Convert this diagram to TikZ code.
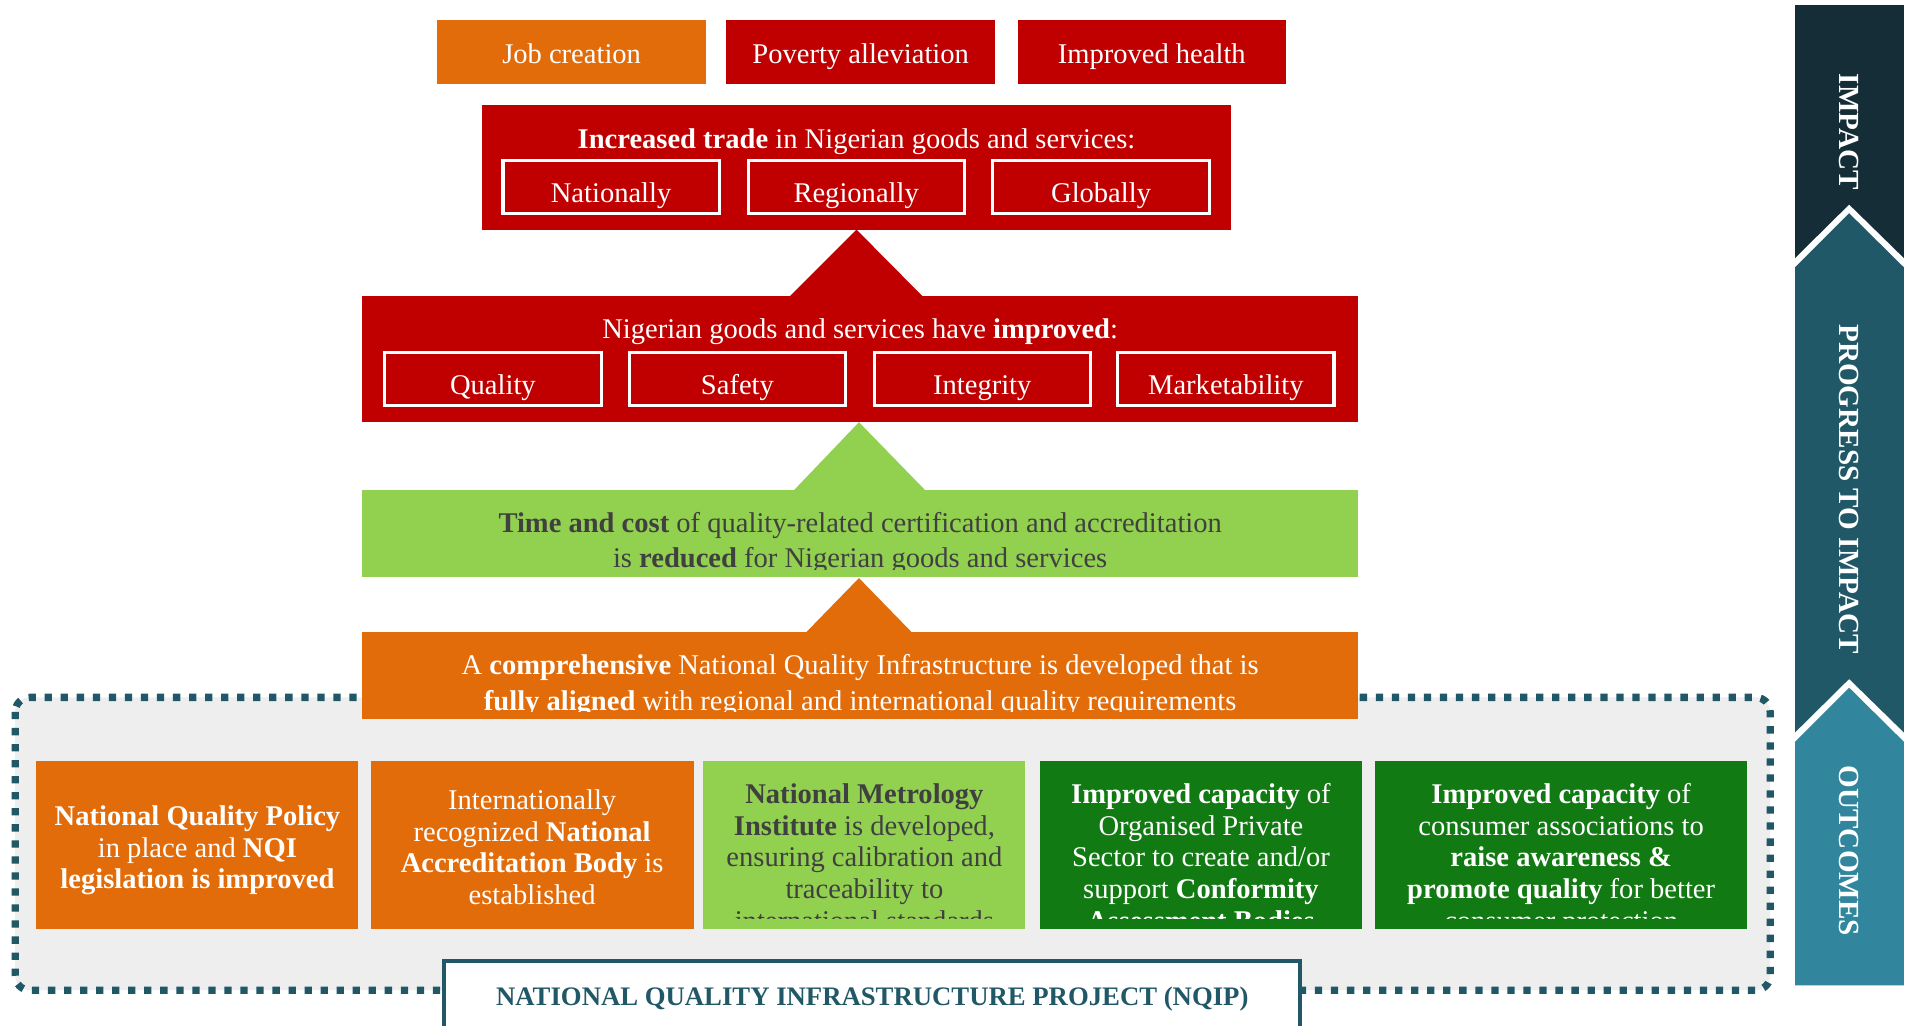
\documentclass[tikz,border=0pt]{standalone}
\usepackage{fontspec}
\setmainfont{Liberation Serif}
\definecolor{nred}{HTML}{C00000}
\definecolor{norange}{HTML}{E36C0A}
\definecolor{lgreen}{HTML}{92D050}
\definecolor{dgreen}{HTML}{127A12}
\definecolor{dtext}{HTML}{404040}
\definecolor{pgray}{HTML}{EEEEEE}
\definecolor{tealA}{HTML}{142D37}
\definecolor{tealB}{HTML}{215868}
\definecolor{tealC}{HTML}{31859C}
\newcommand\ml[1]{\begin{tabular}[t]{@{}c@{}}#1\end{tabular}}
\newcommand\bodyfont{\fontsize{23.5}{29.5}\selectfont}
\newcommand\outfont{\fontsize{23.5}{26}\selectfont}
\begin{document}
\begin{tikzpicture}[x=1pt,y=-1pt,
  boxn/.style={inner sep=0pt, outer sep=0pt, draw=none},
  subbox/.style={inner sep=0pt, outer sep=0pt, draw=white, line width=2.5pt, minimum width=178pt, minimum height=43.5pt},
  lbl/.style={inner sep=0pt, outer sep=0pt, anchor=base, font=\bodyfont, text=white},
  olbl/.style={inner sep=0pt, outer sep=0pt, anchor=base, font=\outfont},
  side/.style={inner sep=0pt, rotate=-90, text=white, font=\bfseries\fontsize{24}{24}\selectfont}]
\useasboundingbox (0,0) rectangle (1568,844);
\fill[white] (0,0) rectangle (1568,844);

% ---- grey project panel
\filldraw[fill=pgray, draw=tealB, line width=6pt, dash pattern=on 6pt off 7.2pt, rounded corners=12pt] (12.5,574) rectangle (1457,815);

% ---- top impact boxes
\node[boxn, fill=norange, minimum width=221pt, minimum height=52.5pt] (job) at (470.5,43) {};
\node[boxn, fill=nred, minimum width=221pt, minimum height=52.5pt] (pov) at (708.4,43) {};
\node[boxn, fill=nred, minimum width=221pt, minimum height=52.5pt] (hea) at (948,43) {};
\node[lbl] (jobt) at (470.5,52.3) {Job creation};
\node[lbl] (povt) at (708.4,52.3) {Poverty alleviation};
\node[lbl] (heat) at (948,52.3) {Improved health};

% ---- trade box
\node[boxn, fill=nred, minimum width=616pt, minimum height=102.6pt] (trade) at (705,137.7) {};
\node[lbl] (tradet) at (705,122) {\textbf{Increased trade} in Nigerian goods and services:};
\node[subbox] (nat) at (503,154) {};
\node[subbox] (reg) at (704.7,154) {};
\node[subbox] (glo) at (906.3,154) {};
\node[lbl] (natt) at (503,166.6) {Nationally};
\node[lbl] (regt) at (704.7,166.6) {Regionally};
\node[lbl] (glot) at (906.3,166.6) {Globally};

% ---- red triangle
\fill[nred] (trade.south) -- (649,245) -- (760.5,245) -- cycle;

% ---- improved box
\node[boxn, fill=nred, minimum width=820pt, minimum height=103pt] (impr) at (708,295.5) {};
\node[lbl] (imprt) at (708,279) {Nigerian goods and services have \textbf{improved}:};
\node[subbox] (qual) at (405.7,311.7) {};
\node[subbox] (safe) at (607,311.7) {};
\node[subbox] (inte) at (808.5,311.7) {};
\node[subbox] (mark) at (1009,311.7) {};
\node[lbl] (qualt) at (405.7,324.4) {Quality};
\node[lbl] (safet) at (607,324.4) {Safety};
\node[lbl] (intet) at (808.5,324.4) {Integrity};
\node[lbl] (markt) at (1009,324.4) {Marketability};

% ---- green triangle and box
\fill[lgreen] (707,347.5) -- (653,404) -- (762,404) -- cycle;
\node[boxn, fill=lgreen, minimum width=820pt, minimum height=71.3pt] (time) at (708,439) {};
\begin{scope}
\clip (298,403) rectangle (1118,468.5);
\node[lbl, text=dtext] (timet) at (708,438) {\ml{\textbf{Time and cost} of quality-related certification and accreditation\\ is \textbf{reduced} for Nigerian goods and services}};
\end{scope}

% ---- orange triangle and box
\fill[norange] (707,475.8) -- (662.5,521.5) -- (751.5,521.5) -- cycle;
\node[boxn, fill=norange, minimum width=820pt, minimum height=71.3pt] (nqi) at (708,556.2) {};
\begin{scope}
\clip (298,520) rectangle (1118,586);
\node[lbl] (nqit) at (708,555.5) {\ml{A \textbf{comprehensive} National Quality Infrastructure is developed that is\\ \textbf{fully aligned} with regional and international quality requirements}};
\end{scope}

% ---- outcome boxes
\node[boxn, fill=norange, minimum width=265pt, minimum height=139pt] (o1) at (162.5,695.5) {};
\node[boxn, fill=norange, minimum width=266pt, minimum height=139pt] (o2) at (438,695.5) {};
\node[boxn, fill=lgreen, minimum width=265pt, minimum height=139pt] (o3) at (711.5,695.5) {};
\node[boxn, fill=dgreen, minimum width=265pt, minimum height=139pt] (o4) at (988.5,695.5) {};
\node[boxn, fill=dgreen, minimum width=306pt, minimum height=139pt] (o5) at (1285,695.5) {};
\begin{scope}
\clip (0,620) rectangle (1460,756);
\node[olbl, text=white] (o1t) at (162.5,679.5) {\ml{\textbf{National Quality Policy}\\ in place and \textbf{NQI}\\ \textbf{legislation is improved}}};
\node[olbl, text=white] (o2t) at (438,666.5) {\ml{Internationally\\ recognized \textbf{National}\\ \textbf{Accreditation Body} is\\ established}};
\node[olbl, text=dtext] (o3t) at (711.5,661.5) {\ml{\textbf{National Metrology}\\ \textbf{Institute} is developed,\\ ensuring calibration and\\ traceability to\\ international standards}};
\node[olbl, text=white] (o4t) at (988.5,661.5) {\ml{\textbf{Improved capacity} of\\ Organised Private\\ Sector to create and/or\\ support \textbf{Conformity}\\ \textbf{Assessment Bodies}}};
\node[olbl, text=white] (o5t) at (1285,661.5) {\ml{\textbf{Improved capacity} of\\ consumer associations to\\ \textbf{raise awareness \&}\\ \textbf{promote quality} for better\\ consumer protection}};
\end{scope}

% ---- project label
\draw[tealB, fill=white, line width=3.5pt] (365.75,790.75) rectangle (1070.25,870);
\node[inner sep=0pt, anchor=base, text=tealB, font=\bfseries\fontsize{22}{22}\selectfont] (nqip) at (718,827.5) {NATIONAL QUALITY INFRASTRUCTURE PROJECT (NQIP)};

% ---- right side bar
\fill[tealA] (1477.5,4) rectangle (1567,240);
\fill[white] (1477.5,212.5) -- (1522,168.5) -- (1567,212.5) -- (1567,630) -- (1477.5,630) -- cycle;
\fill[tealB] (1477.5,220) -- (1522,175.5) -- (1567,220) -- (1567,630) -- (1477.5,630) -- cycle;
\fill[white] (1477.5,603) -- (1522,559) -- (1567,603) -- (1567,811) -- (1477.5,811) -- cycle;
\fill[tealC] (1477.5,610.5) -- (1522,566) -- (1567,610.5) -- (1567,811) -- (1477.5,811) -- cycle;
\node[side] (simp) at (1522,108.4) {IMPACT};
\node[side] (sprog) at (1522,402.6) {PROGRESS TO IMPACT};
\node[side] (sout) at (1522,700.3) {OUTCOMES};
\end{tikzpicture}
\end{document}
